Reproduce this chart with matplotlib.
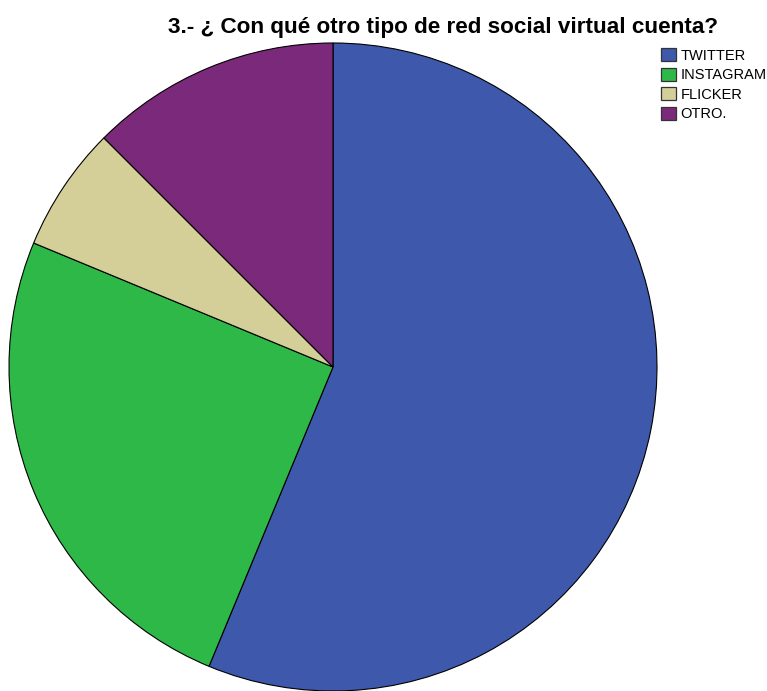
import matplotlib.pyplot as plt
from matplotlib.patches import Patch

plt.rcParams['font.family'] = ['Liberation Sans', 'DejaVu Sans']

# Respuestas a la pregunta 3
categorias = ['TWITTER', 'INSTAGRAM', 'FLICKER', 'OTRO.']
frecuencias = [9, 4, 1, 2]
colores = ['#3E58AC', '#2EB848', '#D4CE98', '#7B2A7B']

W, H = 767, 691
fig = plt.figure(figsize=(W / 100, H / 100), dpi=100)

cx, cy, r = 333, 367, 324
ax = fig.add_axes([(cx - r) / W, (H - cy - r) / H, 2 * r / W, 2 * r / H])
wedges, _ = ax.pie(frecuencias, colors=colores, startangle=90, counterclock=False,
                   radius=1, wedgeprops=dict(edgecolor='black', linewidth=0.8))
for w in wedges:
    w.set_clip_on(False)
ax.set_xlim(-1, 1)
ax.set_ylim(-1, 1)
ax.axis('off')

fig.text(443 / W, 1 - 28 / H, '3.- ¿ Con qué otro tipo de red social virtual cuenta?',
         ha='center', va='center', fontsize=16.2, fontweight='bold')

handles = [Patch(facecolor=c, edgecolor='#333333', linewidth=0.9) for c in colores]
fig.legend(handles, categorias, loc='upper left',
           bbox_to_anchor=(661 / W, 1 - 48 / H), frameon=False, fontsize=10.5,
           handlelength=1.0, handleheight=1.0, handletextpad=0.35,
           labelspacing=0.35, borderpad=0, borderaxespad=0)

fig.savefig('out.png', dpi=100)
